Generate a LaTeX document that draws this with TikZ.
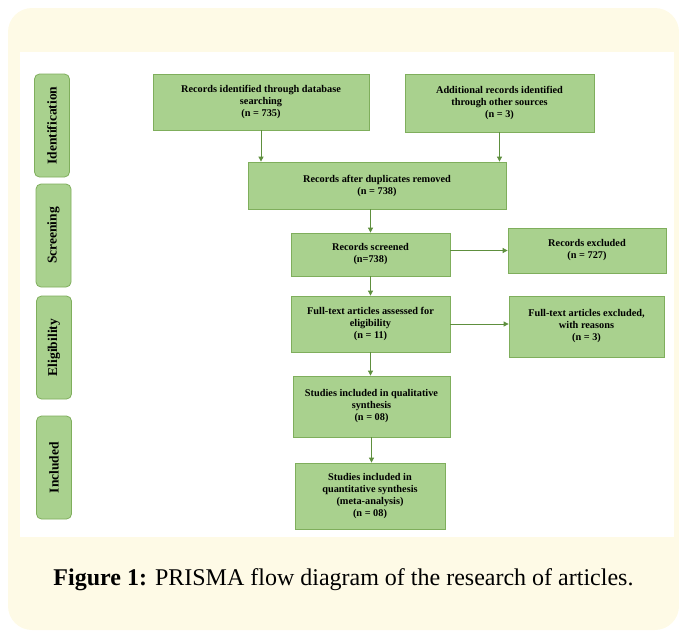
\documentclass[tikz,border=0pt]{standalone}
\usepackage{fontspec}
\setmainfont{Liberation Serif}
\usepackage{tikz}
\usetikzlibrary{arrows.meta, positioning}

\definecolor{boxgreen}{HTML}{A9D18E}
\definecolor{edgegreen}{HTML}{7FAE5C}
\definecolor{arrowgreen}{HTML}{5E8F3E}
\definecolor{cream}{HTML}{FEFAE6}

\begin{document}
\begin{tikzpicture}[x=1pt, y=-1pt,
    stage/.style={draw=edgegreen, fill=boxgreen, line width=0.8pt, align=center,
        font=\fontsize{10.3}{12}\selectfont\bfseries, inner sep=2pt},
    phase/.style={draw=edgegreen, fill=boxgreen, line width=0.8pt, rounded corners=5pt,
        rotate=90, minimum width=103pt, minimum height=35pt,
        font=\fontsize{13.5}{15}\selectfont\bfseries},
    flow/.style={draw=arrowgreen, line width=0.8pt, -{Triangle[length=5pt, width=5pt]}}]
    \useasboundingbox (0,0) rectangle (679,630);
    \fill[cream, rounded corners=24pt] (8,8) rectangle (679,630);
    \fill[white] (20,52) rectangle (674,537);

    \node[phase] (ident) at (52,125.5) {Identification};
    \node[phase] (screen) at (53.5,235.5) {Screening};
    \node[phase] (elig) at (54,347.5) {Eligibility};
    \node[phase] (incl) at (54,467.5) {Included};

    \node[stage, minimum width=216pt, minimum height=56pt] (db) at (261,102)
        {Records identified through database\\searching\\(n = 735)};
    \node[stage, minimum width=189pt, minimum height=58pt] (other) at (499.5,103)
        {Additional records identified\\through other sources\\(n = 3)};
    \node[stage, minimum width=258pt, minimum height=47pt] (dup) at (377,185.5)
        {Records after duplicates removed\\(n = 738)};
    \node[stage, minimum width=159pt, minimum height=43pt] (screened) at (370.5,254.5)
        {Records screened\\(n=738)};
    \node[stage, minimum width=158pt, minimum height=45pt] (excluded) at (587,250.5)
        {Records excluded\\(n = 727)};
    \node[stage, minimum width=159pt, minimum height=56pt] (fulltext) at (370.5,324)
        {Full-text articles assessed for\\eligibility\\(n = 11)};
    \node[stage, minimum width=155pt, minimum height=61pt] (ftexcl) at (586.5,326.5)
        {Full-text articles excluded,\\with reasons\\(n = 3)};
    \node[stage, minimum width=157pt, minimum height=61pt] (qual) at (371.5,406.5)
        {Studies included in qualitative\\synthesis\\(n = 08)};
    \node[stage, minimum width=150pt, minimum height=66pt] (quant) at (370,496)
        {Studies included in\\quantitative synthesis\\(meta-analysis)\\(n = 08)};

    \draw[flow] (db.south) -- (db.south |- dup.north);
    \draw[flow] (other.south) -- (other.south |- dup.north);
    \draw[flow] (screened.north |- dup.south) -- (screened.north);
    \draw[flow] (screened.east |- excluded.west) -- (excluded.west);
    \draw[flow] (screened.south) -- (screened.south |- fulltext.north);
    \draw[flow] (fulltext.east) -- (ftexcl.west |- fulltext.east);
    \draw[flow] (fulltext.south) -- (fulltext.south |- qual.north);
    \draw[flow] (qual.south) -- (qual.south |- quant.north);

    \node[font=\fontsize{24}{28}\selectfont] (caption) at (343.5,580)
        {\textbf{Figure 1:} PRISMA flow diagram of the research of articles.};
\end{tikzpicture}
\end{document}
